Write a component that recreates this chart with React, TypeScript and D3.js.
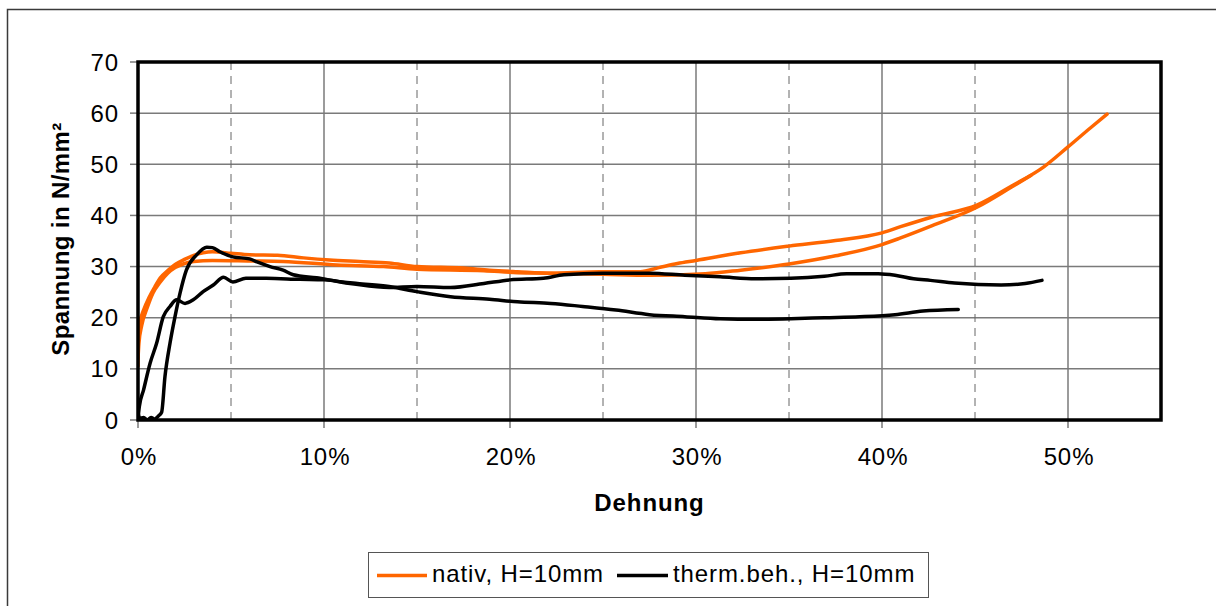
import * as d3 from 'd3';

// Dehnung in %, Spannung in N/mm²
const nativA: [number, number][] = [
  [0, 10.5], [0.02, 16], [0.1, 19], [0.3, 21.5], [0.6, 24], [0.9, 26], [1.2, 27.8],
  [1.6, 29.2], [2.0, 30.4], [2.5, 31.4], [3.0, 32.2], [3.5, 32.7], [4.0, 32.9],
  [5.0, 32.6], [6.0, 32.3], [7.5, 32.2], [8.9, 31.7], [10.3, 31.3], [11.9, 31.0],
  [13.5, 30.7], [15.0, 30.0], [17.5, 29.7], [18.9, 29.3], [20.4, 29.0], [22.2, 28.7],
  [24.8, 29.0], [27.0, 29.0], [28.0, 29.8], [29.0, 30.6], [30.0, 31.2], [32.4, 32.7],
  [35.0, 34.0], [37.5, 35.1], [40.0, 36.6], [41.0, 37.8], [42.7, 39.7], [45.1, 42.0],
  [46.9, 45.6], [48.7, 49.5], [50.0, 53.4], [51.2, 57.1], [52.1, 59.8],
];

const nativB: [number, number][] = [
  [0, 12], [0.05, 15], [0.2, 18.5], [0.5, 22], [0.8, 24.8], [1.2, 27], [1.6, 28.7],
  [2.0, 29.8], [2.5, 30.6], [3.0, 31.0], [4.0, 31.2], [6.0, 31.1], [7.8, 31.0],
  [10.7, 30.3], [13.2, 30.0], [15.0, 29.5], [18.6, 29.2], [20.4, 28.8], [22.2, 28.7],
  [25.0, 28.5], [27.5, 28.3], [30.5, 28.6], [32.4, 29.3], [35.0, 30.5], [37.5, 32.1],
  [40.0, 34.3], [41.0, 35.6], [42.7, 38.0], [45.1, 41.6], [46.9, 45.4], [48.0, 47.8],
];

const thermC: [number, number][] = [
  [0, 0.3], [0.07, 2.6], [0.3, 5.9], [0.65, 11.1], [1.0, 15.0], [1.36, 20.2], [1.72, 22.2],
  [2.08, 23.5], [2.53, 22.8], [2.97, 23.5], [3.5, 25.1], [4.05, 26.4], [4.6, 27.9],
  [5.1, 27.0], [5.8, 27.7], [6.9, 27.7], [8.7, 27.5], [10.0, 27.4], [11.4, 26.7],
  [13.5, 25.9], [15.0, 26.1], [16.8, 25.9], [18.6, 26.7], [20.0, 27.4], [21.8, 27.7],
  [22.9, 28.4], [25.0, 28.7], [27.5, 28.7], [29.4, 28.3], [31.3, 28.0], [33.2, 27.6],
  [35.1, 27.7], [36.9, 28.1], [38.1, 28.6], [39.8, 28.6], [40.7, 28.3], [41.7, 27.6],
  [42.6, 27.3], [43.9, 26.8], [46.4, 26.4], [47.7, 26.7], [48.6, 27.3],
];

const thermD: [number, number][] = [
  [0, 1.5], [0.1, 0.3], [0.3, 0.5], [0.5, 0.0], [0.7, 0.5], [0.9, 0.2], [1.1, 0.8],
  [1.27, 1.5], [1.45, 8.5], [1.72, 15.0], [1.99, 20.2], [2.26, 24.8], [2.6, 29.3],
  [3.15, 32.3], [3.7, 33.8], [4.0, 33.7], [4.4, 32.9], [5.1, 31.9], [6.0, 31.5],
  [6.4, 30.9], [7.1, 30.0], [7.8, 29.3], [8.35, 28.4], [9.6, 27.8], [11.0, 27.0],
  [11.8, 26.7], [13.5, 26.1], [15.0, 25.1], [16.8, 24.1], [18.9, 23.6], [20.4, 23.1],
  [22.2, 22.8], [23.9, 22.2], [25.7, 21.5], [27.5, 20.6], [29.4, 20.2], [31.3, 19.8],
  [33.2, 19.7], [35.1, 19.8], [36.9, 20.0], [38.8, 20.2], [40.7, 20.6], [42.2, 21.3],
  [44.1, 21.6],
];

const xMajor = [0, 10, 20, 30, 40, 50];
const xMinor = [5, 15, 25, 35, 45];
const yTicks = [0, 10, 20, 30, 40, 50, 60, 70];
const legendLabels = ['nativ, H=10mm', 'therm.beh., H=10mm'];

const ORANGE = '#FF6600';
const FONT = '"Liberation Sans", Arial, sans-serif';

export default function App() {
  const left = 138, right = 1161, top = 62, bottom = 420;
  const x = d3.scaleLinear().domain([0, 55]).range([left, right]);
  const y = d3.scaleLinear().domain([0, 70]).range([bottom, top]);

  const line = d3
    .line<[number, number]>()
    .x((d) => x(d[0]))
    .y((d) => y(d[1]))
    .curve(d3.curveMonotoneX);

  const series = [
    { data: nativA, color: ORANGE },
    { data: nativB, color: ORANGE },
    { data: thermC, color: '#000' },
    { data: thermD, color: '#000' },
  ];

  const textStyle = { fontFamily: FONT, fontSize: 24, letterSpacing: 0.9 };

  return (
    <svg
      width={1216}
      height={606}
      style={{ position: 'absolute', left: 0, top: 0, background: '#fff' }}
    >
      <defs>
        <clipPath id="plot">
          <rect x={left} y={top} width={right - left} height={bottom - top} />
        </clipPath>
      </defs>

      {/* chart frame */}
      <rect x={7.5} y={9.5} width={1230} height={620} fill="#fff" stroke="#3a3a3a" strokeWidth={1.5} />

      {/* grid */}
      {yTicks.slice(1, -1).map((t) => (
        <line key={'gy' + t} x1={left} x2={right} y1={y(t)} y2={y(t)} stroke="#7a7a7a" strokeWidth={1.5} />
      ))}
      {xMajor.slice(1).map((t) => (
        <line key={'gx' + t} x1={x(t)} x2={x(t)} y1={top} y2={bottom} stroke="#7a7a7a" strokeWidth={1.5} />
      ))}
      {xMinor.map((t) => (
        <line key={'gm' + t} x1={x(t)} x2={x(t)} y1={top} y2={bottom} stroke="#666" strokeWidth={1} strokeDasharray="8,6" />
      ))}

      {/* ticks */}
      {yTicks.map((t) => (
        <line key={'ty' + t} x1={left - 8} x2={left} y1={y(t)} y2={y(t)} stroke="#7a7a7a" strokeWidth={1.5} />
      ))}
      {xMajor.map((t) => (
        <line key={'tx' + t} x1={x(t)} x2={x(t)} y1={bottom} y2={bottom + 8} stroke="#7a7a7a" strokeWidth={1.5} />
      ))}

      {/* series */}
      <g clipPath="url(#plot)">
        {series.map((s, i) => (
          <path
            key={i}
            d={line(s.data) || ''}
            fill="none"
            stroke={s.color}
            strokeWidth={3.5}
            strokeLinejoin="round"
            strokeLinecap="round"
          />
        ))}
      </g>

      {/* plot border */}
      <rect x={left} y={top} width={right - left} height={bottom - top} fill="none" stroke="#000" strokeWidth={3.5} />

      {/* tick labels */}
      {yTicks.map((t) => (
        <text key={'ly' + t} x={119} y={y(t) + 8.5} textAnchor="end" style={textStyle} fill="#000">
          {t}
        </text>
      ))}
      {xMajor.map((t) => (
        <text key={'lx' + t} x={x(t) + 1} y={465} textAnchor="middle" style={textStyle} fill="#000">
          {t}%
        </text>
      ))}

      {/* axis titles */}
      <text x={(left + right) / 2} y={511} textAnchor="middle" style={{ ...textStyle, fontWeight: 'bold' }}>
        Dehnung
      </text>
      <text
        transform={`translate(69, ${(top + bottom) / 2 - 2}) rotate(-90)`}
        textAnchor="middle"
        style={{ ...textStyle, fontWeight: 'bold', letterSpacing: 0.4 }}
      >
        Spannung in N/mm²
      </text>

      {/* legend */}
      <rect x={368.5} y={552.5} width={560} height={45} fill="#fff" stroke="#555" strokeWidth={1} />
      <line x1={377} x2={427} y1={575.5} y2={575.5} stroke={ORANGE} strokeWidth={3.5} />
      <text x={432} y={582} style={textStyle}>{legendLabels[0]}</text>
      <line x1={617} x2={668} y1={575.5} y2={575.5} stroke="#000" strokeWidth={3.5} />
      <text x={673} y={582} style={textStyle}>{legendLabels[1]}</text>
    </svg>
  );
}
